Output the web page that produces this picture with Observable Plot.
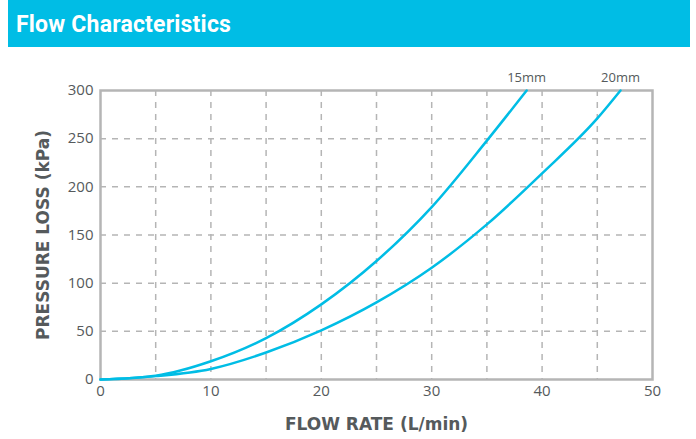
<!DOCTYPE html>
<html><head><meta charset="utf-8">
<script src="https://cdn.jsdelivr.net/npm/d3@7"></script>
<script src="https://cdn.jsdelivr.net/npm/@observablehq/plot@0.6"></script>
<style>
body{margin:0;background:#fff;font-family:"Open Sans",sans-serif;}
#hdr{margin-left:8px;width:682px;height:47px;background:#00BDE5;color:#fff;font:bold 23px Roboto,sans-serif;box-sizing:border-box;padding:11px 0 0 8px;letter-spacing:0.2px;}
</style></head><body>
<div id="hdr">Flow Characteristics</div>
<div id="chart"></div>
<script>
const flow15 = [0, 5, 10, 15, 20, 25, 30, 35, 38.6];
const loss15 = [0, 4, 19, 43, 78, 123, 179, 248, 300];
const flow20 = [0, 5, 10, 15, 20, 25, 30, 35, 40, 45, 47.1];
const loss20 = [0, 3.5, 11, 28, 51, 80, 116, 161, 214, 271, 300];
const seriesNames = ["15mm", "20mm"];
const xTicks = [0, 10, 20, 30, 40, 50];
const yTicks = [0, 50, 100, 150, 200, 250, 300];
const xGrid = [5, 10, 15, 20, 25, 30, 35, 40, 45];
const yGrid = [50, 100, 150, 200, 250];

const data = [
  ...flow15.map((f, i) => ({series: seriesNames[0], flow: f, loss: loss15[i]})),
  ...flow20.map((f, i) => ({series: seriesNames[1], flow: f, loss: loss20[i]}))
];
const labels = [
  {series: seriesNames[0], flow: flow15[flow15.length - 1], loss: 300},
  {series: seriesNames[1], flow: flow20[flow20.length - 1], loss: 300}
];
const grey = "#b5b5b5";
const txt = "#555a5c";
const plot = Plot.plot({
  width: 696, height: 392,
  marginLeft: 100, marginRight: 44, marginTop: 43, marginBottom: 60,
  style: {fontFamily: "'Open Sans', sans-serif", fontSize: "14px", color: txt, overflow: "visible"},
  x: {domain: [0, 50], ticks: xTicks, label: null},
  y: {domain: [0, 300], ticks: yTicks, label: null},
  marks: [
    Plot.ruleX(xGrid, {stroke: grey, strokeWidth: 1.5, strokeDasharray: "6,6"}),
    Plot.ruleY(yGrid, {stroke: grey, strokeWidth: 1.5, strokeDasharray: "6,6"}),
    Plot.frame({stroke: grey, strokeWidth: 2.5}),
    Plot.axisX({ticks: xTicks, tickSize: 0, tickPadding: 6, fontSize: 15, fill: txt, label: null}),
    Plot.axisY({ticks: yTicks, tickSize: 0, tickPadding: 7, fontSize: 15, fill: txt, label: null}),
    Plot.line(data, {x: "flow", y: "loss", z: "series", stroke: "#00BDE5", strokeWidth: 2.5, curve: "monotone-x"}),
    Plot.text(labels, {x: "flow", y: "loss", text: "series", dy: -13, fontSize: 13, fill: txt}),
    Plot.text(["FLOW RATE (L/min)"], {frameAnchor: "bottom", textAnchor: "middle", dy: 50, fontSize: 17, fontWeight: "bold", fill: txt, fontFamily: "DejaVu Sans"}),
    Plot.text(["PRESSURE LOSS (kPa)"], {frameAnchor: "left", textAnchor: "middle", dx: -57, rotate: -90, fontSize: 17, fontWeight: "bold", fill: txt, fontFamily: "DejaVu Sans"})
  ]
});
document.getElementById("chart").appendChild(plot);
</script>
</body></html>
